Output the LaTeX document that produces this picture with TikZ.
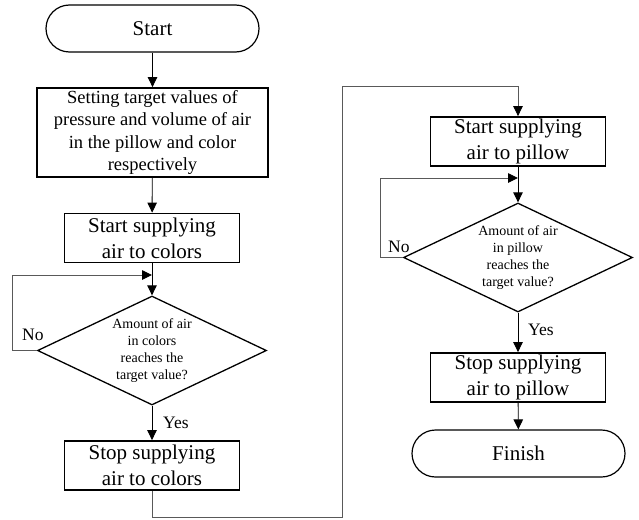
\documentclass[tikz,border=0pt]{standalone}
\usepackage{fontspec}
\setmainfont{Liberation Serif}
\usetikzlibrary{arrows.meta,shapes.geometric}
\begin{document}
\begin{tikzpicture}[x=1pt,y=-1pt,
 term/.style={draw,line width=1.2pt,rounded corners=23.5pt,minimum width=213pt,minimum height=47pt,inner sep=0pt,font=\fontsize{21}{25}\selectfont},
 proc/.style={draw,line width=1.8pt,minimum width=175pt,minimum height=49pt,inner sep=0pt,align=center,font=\fontsize{21}{26}\selectfont},
 dec/.style={draw,diamond,line width=1.3pt,minimum width=229pt,minimum height=109pt,aspect=2.1,inner sep=0pt,align=center,font=\fontsize{14}{17.2}\selectfont},
 arr/.style={-{Triangle[length=10pt,width=9.5pt,color=black]},line width=0.9pt},
 conn/.style={line width=1pt,draw=black!65},
 lbl/.style={font=\fontsize{17.5}{20}\selectfont,inner sep=0pt,anchor=west}]
\useasboundingbox (0,0) rectangle (639,519);
\node[term] (start) at (152.5,28.5) {Start};
\node[proc,minimum width=231pt,minimum height=89pt,font=\fontsize{18.5}{22.3}\selectfont] (set) at (152.5,132.5) {Setting target values of\\pressure and volume of air\\in the pillow and color\\respectively};
\node[proc] (b2) at (152,238) {Start supplying\\air to colors};
\node[dec] (d1) at (152,350.5) {Amount of air\\in colors\\reaches the\\target value?};
\node[proc] (b3) at (152,465.5) {Stop supplying\\air to colors};
\node[proc] (b4) at (518,141.5) {Start supplying\\air to pillow};
\node[dec] (d2) at (518,257.5) {Amount of air\\in pillow\\reaches the\\target value?};
\node[proc] (b5) at (518,377.5) {Stop supplying\\air to pillow};
\node[term] (fin) at (518.5,453.5) {Finish};
\node[lbl] (no1) at (22,335) {No};
\node[lbl] (yes1) at (163,423) {Yes};
\node[lbl] (no2) at (388,247) {No};
\node[lbl] (yes2) at (528,330) {Yes};
\coordinate (j1) at (152,275);
\coordinate (j2) at (518,178);
\coordinate (r1) at (342,517);
\coordinate (r2) at (342,86);
\draw[arr] (start) -- (set);
\draw[arr] (set) -- (b2);
\draw[arr] (b2) -- (d1);
\draw[arr] (d1) -- (b3);
\draw[conn,arr] (d1.west) -- ++(-24,0) |- (j1);
\draw[conn,arr] (b3.south) |- (r1) -- (r2) -| (b4.north);
\draw[arr] (b4) -- (d2);
\draw[conn,arr] (d2.west) -- ++(-22,0) |- (j2);
\draw[arr] (d2) -- (b5);
\draw[arr] (b5) -- (fin);
\end{tikzpicture}
\end{document}
